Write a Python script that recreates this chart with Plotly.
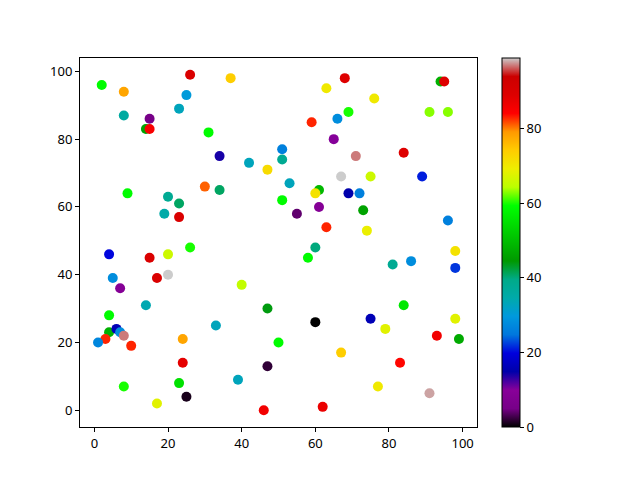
import plotly.graph_objects as go

x_vals = [2, 8, 26, 37, 25, 23, 8, 15, 14, 15, 31, 34, 42, 30, 34, 9, 20, 23, 19, 23, 26,
          68, 63, 76, 94, 95, 69, 91, 96, 59, 66, 65, 51, 51, 71, 84, 47, 67, 75, 89, 53,
          61, 60, 69, 72, 51, 61, 55, 73, 96, 63, 74, 60,
          4, 15, 20, 5, 17, 20, 7, 40, 14, 4, 33, 4, 6, 7, 8, 3, 1, 10, 24, 24, 8, 23, 17, 25, 39,
          58, 81, 86, 98, 98, 47, 60, 75, 79, 84, 98, 93, 99, 50, 67, 83, 47, 77, 91, 46, 62]
y_vals = [96, 94, 99, 98, 93, 89, 87, 86, 83, 83, 82, 75, 73, 66, 65, 64, 63, 61, 58, 57, 48,
          98, 95, 92, 97, 97, 88, 88, 88, 85, 86, 80, 77, 74, 75, 76, 71, 69, 69, 69, 67,
          65, 64, 64, 64, 62, 60, 58, 59, 56, 54, 53, 48,
          46, 45, 46, 39, 39, 40, 36, 37, 31, 28, 25, 23, 24, 23, 22, 21, 20, 19, 21, 14, 7, 8, 2, 4, 9,
          45, 43, 44, 47, 42, 30, 26, 27, 24, 31, 27, 22, 21, 20, 17, 14, 13, 7, 5, 0, 1]
c_vals = [59, 78, 90, 74, 30, 33, 36, 5, 46, 85, 59, 14, 33, 81, 41, 59, 38, 41, 35, 90, 60,
          89, 70, 70, 48, 89, 60, 63, 63, 83, 28, 10, 26, 38, 97, 89, 72, 99, 66, 21, 33,
          49, 71, 15, 26, 59, 9, 4, 46, 26, 83, 69, 40,
          20, 90, 66, 28, 90, 99, 9, 65, 34, 59, 33, 48, 16, 28, 97, 83, 27, 83, 78, 88, 60, 55, 68, 1, 33,
          59, 38, 28, 71, 22, 44, 0, 16, 68, 56, 68, 86, 47, 59, 74, 84, 2, 70, 98, 86, 87]

cb_ticks = [0, 20, 40, 60, 80]

# matplotlib nipy_spectral colormap stops
_r = [0.0, 0.4667, 0.5333, 0.0, 0.0, 0.0, 0.0, 0.0, 0.0, 0.0, 0.0, 0.0, 0.0,
      0.7333, 0.9333, 1.0, 1.0, 1.0, 0.8667, 0.80, 0.80]
_g = [0.0, 0.0, 0.0, 0.0, 0.0, 0.4667, 0.6000, 0.6667, 0.6667, 0.6000, 0.7333,
      0.8667, 1.0, 1.0, 0.9333, 0.8000, 0.6000, 0.0, 0.0, 0.0, 0.80]
_b = [0.0, 0.5333, 0.6000, 0.6667, 0.8667, 0.8667, 0.8667, 0.6667, 0.5333, 0.0,
      0.0, 0.0, 0.0, 0.0, 0.0, 0.0, 0.0, 0.0, 0.0, 0.0, 0.80]
colorscale = [[i / 20, "rgb(%d,%d,%d)" % (round(r * 255), round(g * 255), round(b * 255))]
              for i, (r, g, b) in enumerate(zip(_r, _g, _b))]

font = dict(family="Noto Sans, DejaVu Sans, sans-serif", size=13, color="black")

fig = go.Figure(go.Scatter(
    x=x_vals, y=y_vals, mode="markers",
    marker=dict(
        size=10, color=c_vals, colorscale=colorscale, cmin=0, cmax=99,
        line=dict(width=0),
        colorbar=dict(
            x=(502 - 80) / 397, xanchor="left", y=0.5, yanchor="middle",
            len=1, lenmode="fraction", thickness=18, thicknessmode="pixels",
            outlinecolor="black", outlinewidth=1,
            tickvals=cb_ticks, ticks="outside", ticklen=4, tickcolor="black",
            tickfont=font, xpad=0, ypad=0,
        ),
    ),
))

axis_common = dict(showgrid=False, zeroline=False, showline=True, mirror=True,
                   linecolor="black", linewidth=1, ticks="outside", ticklen=4,
                   tickcolor="black", tickfont=font)
fig.update_xaxes(range=[-3.9, 103.9], tickvals=[0, 20, 40, 60, 80, 100], **axis_common)
fig.update_yaxes(range=[-4.95, 103.95], tickvals=[0, 20, 40, 60, 80, 100], **axis_common)

# page body has an 8px default margin; size the figure to compensate
fig.update_layout(
    width=632, height=472,
    margin=dict(l=72, r=163, t=50, b=53, pad=0),
    plot_bgcolor="white", paper_bgcolor="white",
    showlegend=False, font=font,
)

fig.write_html("out.html")
